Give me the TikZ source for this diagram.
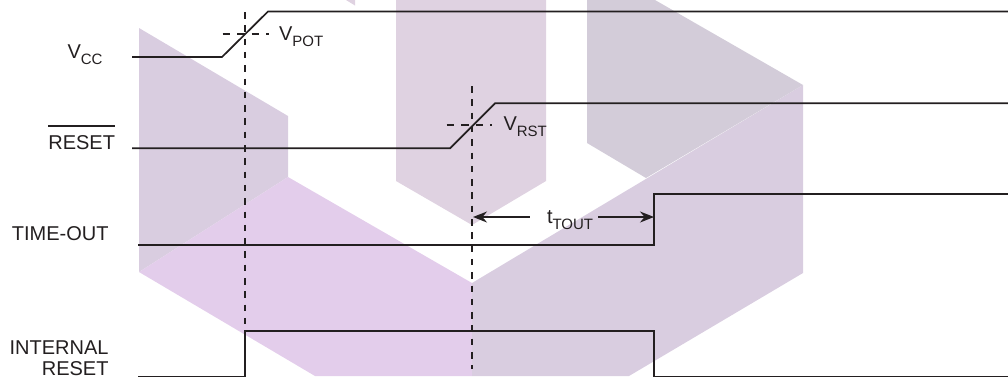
\documentclass[tikz,border=0pt]{standalone}
\usepackage{fontspec}
\setmainfont{Liberation Sans}
\usetikzlibrary{arrows.meta}
\definecolor{ink}{HTML}{231F20}
\definecolor{shgray}{HTML}{D9CDE0}
\definecolor{shpink}{HTML}{E3CDEB}
\definecolor{shmid}{HTML}{DFD2E1}
\definecolor{shtop}{HTML}{D3CCD9}
\newcommand{\subtxt}[1]{\raisebox{-6pt}{\fontsize{15}{15}\selectfont #1}}
\tikzset{
  x=1pt,y=-1pt,
  wave/.style={draw=ink,line width=1.7pt,line join=miter},
  guide/.style={draw=ink,line width=1.2pt,dash pattern=on 6.5pt off 6.8pt},
  tick/.style={draw=ink,line width=1.2pt,dash pattern=on 7.5pt off 7pt},
  label/.style={text=ink,font=\fontsize{20}{22}\selectfont,inner sep=0pt,outer sep=0pt},
  span/.style={draw=ink,line width=1.5pt,-{Stealth[length=14pt,width=11pt]}}
}
\begin{document}
\begin{tikzpicture}
\useasboundingbox (0,0) rectangle (1008,376);
% background shapes
\fill[shgray] (139,28) -- (288,116) -- (288,177) -- (139,272) -- cycle;
\fill[shpink] (139,272) -- (288,177) -- (472,283) -- (472,376) -- (315,376) -- cycle;
\fill[shmid] (396,0) -- (546,0) -- (546,181) -- (472,225) -- (396,181) -- cycle;
\fill[shmid] (346,0) -- (355,0) -- (355,5.5) -- cycle;
\fill[shgray] (472,283) -- (803,85) -- (803,273) -- (629,376) -- (472,376) -- cycle;
\fill[shtop] (587,0) -- (655,0) -- (803,85) -- (646,178) -- (587,143) -- cycle;
% coordinates
\coordinate (vs) at (132,57); \coordinate (va) at (222,57); \coordinate (vb) at (268,11.5); \coordinate (ve) at (1008,11.5);
\coordinate (rs) at (132,148.3); \coordinate (ra) at (450,148.3); \coordinate (rb) at (495,103.3); \coordinate (re) at (1008,103.3);
\coordinate (ts) at (138,245.3); \coordinate (ta) at (654,245.3); \coordinate (tb) at (654,194); \coordinate (te) at (1008,194);
\coordinate (is) at (138,376.4); \coordinate (ia) at (245,376.4); \coordinate (ib) at (245,331); \coordinate (ic) at (654,331); \coordinate (id) at (654,376.4); \coordinate (ie) at (1008,376.4);
\coordinate (g1t) at (245,12); \coordinate (g2t) at (472,86); \coordinate (g2b) at (472,369);
\coordinate (h1a) at (222.5,34); \coordinate (h1b) at (268.5,34);
\coordinate (h2a) at (446.5,125); \coordinate (h2b) at (492,125);
% guides
\draw[guide] (g1t) -- (ib);
\draw[guide] (g2t) -- (g2b);
\draw[tick] (h1a) -- (h1b);
\draw[tick] (h2a) -- (h2b);
% waves
\draw[wave] (vs) -- (va) -- (vb) -- (ve);
\draw[wave] (rs) -- (ra) -- (rb) -- (re);
\draw[wave] (ts) -- (ta) -- (tb) -- (te);
\draw[wave] (is) -- (ia) -- (ib) -- (ic) -- (id) -- (ie);
% labels
\node[label,anchor=base west] (lvcc) at (67.5,58) {V\subtxt{CC}};
\node[label,anchor=base west] (lpot) at (279,40) {V\subtxt{POT}};
\node[label,anchor=base west] (lrst) at (503.5,130.5) {V\subtxt{RST}};
\node[label,anchor=base east] (lreset) at (115,149) {\vbox{\hrule height 1.3pt\kern 8.5pt\hbox{RESET}}};
\node[label,anchor=base east] (ltime) at (108.5,240) {TIME-OUT};
\node[label,anchor=base east] (lint) at (108.5,354) {INTERNAL};
\node[label,anchor=base east] (lintb) at (108.5,375) {RESET};
\node[label,anchor=base west] (ltout) at (547,223) {t\subtxt{TOUT}};
% span arrows
\coordinate (sa) at (529.5,217); \coordinate (sb) at (473,217);
\coordinate (sc) at (598,217); \coordinate (sd) at (654,217);
\draw[span] (sa) -- (sb);
\draw[span] (sc) -- (sd);
\end{tikzpicture}
\end{document}
